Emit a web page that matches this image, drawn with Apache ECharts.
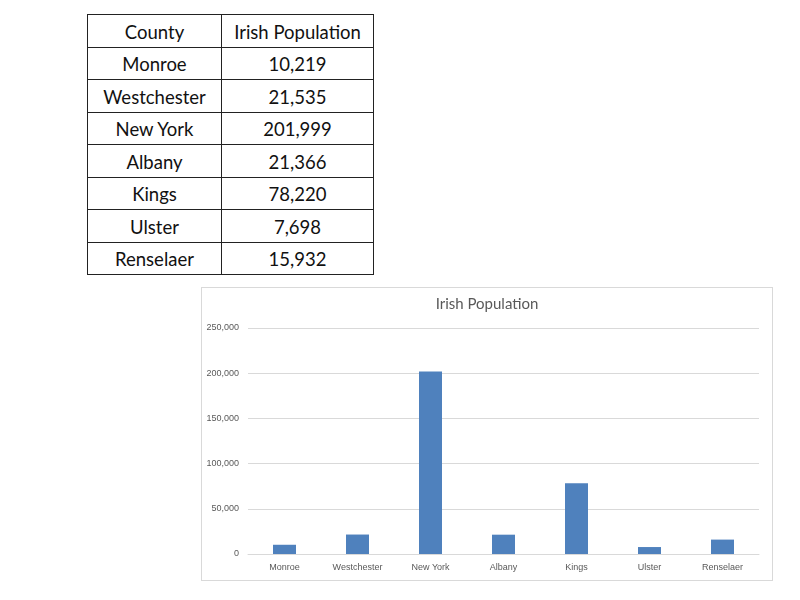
<!DOCTYPE html>
<html>
<head>
<meta charset="utf-8">
<script src="https://cdn.jsdelivr.net/npm/echarts@6/dist/echarts.min.js"></script>
<style>
body { margin: 0; background: #fff; width: 800px; height: 600px; position: relative; font-family: Lato, "Open Sans", sans-serif; }
#tbl { position: absolute; left: 87px; top: 14px; border-collapse: collapse; }
#tbl td { border: 1px solid #222; text-align: center; font-size: 18.5px; color: #111; height: 29.5px; padding: 2px 0 0 0; }
#tbl td.c1 { width: 133px; }
#tbl td.c2 { width: 151px; }
#chart { position: absolute; left: 201px; top: 287px; width: 570px; height: 292px; border: 1px solid #d9d9d9; }
</style>
</head>
<body>
<table id="tbl"></table>
<div id="chart"></div>
<script>
var counties = ['Monroe', 'Westchester', 'New York', 'Albany', 'Kings', 'Ulster', 'Renselaer'];
var irishPop = [10219, 21535, 201999, 21366, 78220, 7698, 15932];
var headers = ['County', 'Irish Population'];

function fmt(v) {
    return String(v).replace(/\B(?=(\d{3})+(?!\d))/g, ',');
}

// table above the chart
var tbl = document.getElementById('tbl');
var html = '<tr><td class="c1">' + headers[0] + '</td><td class="c2">' + headers[1] + '</td></tr>';
for (var i = 0; i < counties.length; i++) {
    html += '<tr><td class="c1">' + counties[i] + '</td><td class="c2">' + fmt(irishPop[i]) + '</td></tr>';
}
tbl.innerHTML = html;

var myChart = echarts.init(document.getElementById('chart'));
var option = {
    animation: false,
    title: {
        text: 'Irish Population',
        left: 'center',
        top: 4,
        textStyle: {
            fontFamily: 'Lato',
            fontSize: 15,
            fontWeight: 'normal',
            color: '#595959'
        }
    },
    grid: {
        left: 46,
        right: 13,
        top: 40,
        bottom: 26
    },
    xAxis: {
        type: 'category',
        data: counties,
        axisLine: { lineStyle: { color: '#d9d9d9' } },
        axisTick: { show: false },
        axisLabel: {
            fontSize: 9,
            color: '#595959',
            fontFamily: 'Liberation Sans',
            margin: 9,
            interval: 0
        }
    },
    yAxis: {
        type: 'value',
        min: 0,
        max: 250000,
        interval: 50000,
        axisLine: { show: false },
        axisTick: { show: false },
        splitLine: { lineStyle: { color: '#d9d9d9' } },
        axisLabel: {
            fontSize: 9,
            color: '#595959',
            fontFamily: 'Liberation Sans',
            margin: 9,
            formatter: function (v) { return fmt(v); }
        }
    },
    series: [
        {
            name: 'Irish Population',
            type: 'bar',
            data: irishPop,
            barWidth: 23,
            itemStyle: { color: '#4f81bd' }
        }
    ]
};
myChart.setOption(option);
</script>
</body>
</html>
